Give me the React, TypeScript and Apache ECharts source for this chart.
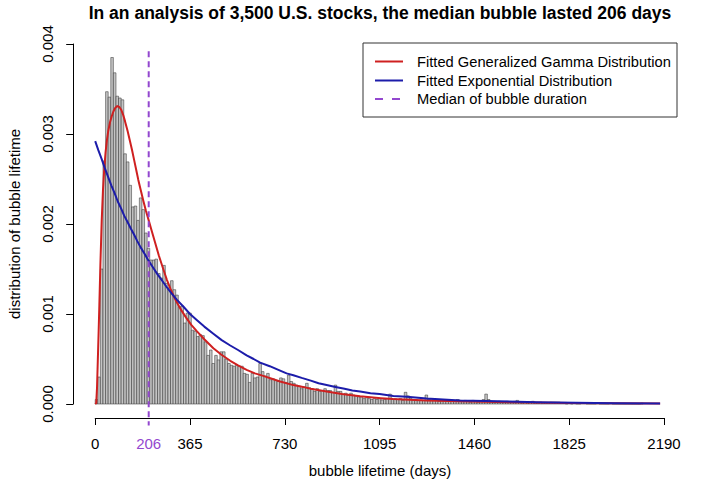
import React, { useEffect, useRef } from "react";
import * as echarts from "echarts";

// ---- data ----
const BIN_WIDTH = 10; // days per histogram bin
const binDensity: number[] = [
  // 0-9
  0.00005, 0.0003, 0.0015, 0.0027, 0.00347, 0.00341, 0.00385, 0.00368, 0.00342, 0.0034,
  // 10-19
  0.00338, 0.00278, 0.00269, 0.00243, 0.00219, 0.0022, 0.00204, 0.00229, 0.00216, 0.0019,
  // 20-29
  0.00173, 0.0016, 0.0016, 0.00161, 0.00145, 0.0014, 0.00154, 0.00134, 0.00129, 0.00137,
  // 30-39
  0.00127, 0.00121, 0.00108, 0.00109, 0.0009, 0.00101, 0.00101, 0.00082, 0.00081, 0.00075,
  // 40-49
  0.00077, 0.00076, 0.00069, 0.00054, 0.0006, 0.00045, 0.00054, 0.00049, 0.00058, 0.00058,
  // 50-59
  0.0005, 0.00045, 0.00043, 0.00042, 0.00043, 0.00042, 0.00042, 0.00034, 0.00033, 0.00024,
  // 60-69
  0.00034, 0.00029, 0.0003, 0.00045, 0.00036, 0.00031, 0.00034, 0.00027, 0.00028, 0.00026,
  // 70-79
  0.00025, 0.00029, 0.00028, 0.00024, 0.00032, 0.00025, 0.00023, 0.00021, 0.0002, 0.00017,
  // 80-89
  0.00019, 0.00023, 0.00018, 0.00017, 0.00014, 0.00017, 0.00014, 0.00015, 0.00017, 0.00015,
  // 90-99
  0.00015, 0.00013, 0.00021, 0.00014, 0.00014, 0.00011, 0.00012, 0.0001, 0.00012, 0.0001,
  // 100-109
  0.00009, 0.00008, 0.00008, 0.00006, 0.00007, 0.00006, 0.00005, 0.00006, 0.00005, 0.00006,
  // 110-119
  0.000045, 0.00005, 0.00006, 0.00011, 0.00005, 0.00006, 0.00005, 0.00006, 0.00004, 0.00013,
  // 120-129
  0.00009, 0.00006, 0.000045, 0.00005, 0.00004, 0.000045, 0.00004, 0.0001, 0.00005, 0.000045,
  // 130-139
  0.00006, 0.000045, 0.00003, 0.00004, 0.00005, 0.00003, 0.00005, 0.00004, 0.00003, 0.00005,
  // 140-149
  0.00004, 0.00003, 0.00004, 0.00003, 0.00002, 0.00004, 0.00003, 0.00002, 0.00003, 0.00005,
  // 150-159
  0.00011, 0.00005, 0.00003, 0.00002, 0.00002, 0.00003, 0.00002, 0.00002, 0.00003, 0.00002,
  // 160-169
  0.00002, 0.00003, 0.00004, 0.00002, 0.00001, 0.00002, 0.00001, 0.00002, 0.00003, 0.00001,
  // 170-179
  0.00001, 0.00002, 0.00001, 0.00001, 0.00001, 0.00002, 0.00002, 0.00002, 0.00002, 0.00001,
  // 180-189
  0.00001, 0, 0.00001, 0, 0.00001, 0, 0, 0.00001, 0.00001, 0,
  // 190-199
  0, 0, 0, 0.00001, 0, 0, 0, 0, 0.00001, 0,
  // 200-210
  0, 0, 0, 0, 0, 0, 0, 0, 0, 0, 0.00001,
];

// fitted generalized gamma curve
const gammaFit: [number, number][] = [
  [0, 0], [4, 0.00001], [7, 0.00018], [10, 0.00048], [13, 0.00078], [16, 0.0011],
  [20, 0.00155], [25, 0.00203], [30, 0.00238], [35, 0.00262], [40, 0.0028], [45, 0.00293],
  [50, 0.00303], [57, 0.00313], [64, 0.0032], [70, 0.00325], [77, 0.00329], [85, 0.00331],
  [93, 0.0033], [100, 0.00327], [108, 0.00321], [115, 0.00314], [125, 0.00303], [134, 0.00292],
  [142, 0.00282], [150, 0.00271], [158, 0.0026], [166, 0.00249], [175, 0.00238], [185, 0.00226],
  [195, 0.00215], [206, 0.00204], [218, 0.00192], [230, 0.0018], [245, 0.00165], [262, 0.0015],
  [276, 0.00138], [290, 0.00128], [302, 0.0012], [314, 0.00113], [332, 0.00104], [350, 0.00096],
  [370, 0.00088], [391, 0.00081], [420, 0.00072], [455, 0.00062], [485, 0.00055], [520, 0.00048],
  [550, 0.00043], [583, 0.00038], [615, 0.00034], [650, 0.00031], [680, 0.00028], [712, 0.00025],
  [763, 0.00021], [800, 0.00019], [830, 0.00017], [891, 0.00014], [950, 0.00011], [1020, 0.000085],
  [1100, 0.000065], [1148, 0.000055], [1210, 0.000047], [1276, 0.00004], [1400, 0.00003],
  [1600, 0.00002], [1825, 0.000012], [2000, 0.000008], [2175, 0.000005],
];

// fitted exponential curve
const expFit: [number, number][] = [
  [0, 0.00292], [12, 0.00282], [25, 0.00272], [37, 0.00262], [50, 0.00252], [62, 0.00243],
  [75, 0.00234], [87, 0.00225], [100, 0.00217], [112, 0.00209], [125, 0.00202], [137, 0.00195],
  [150, 0.00188], [162, 0.00181], [175, 0.00174], [190, 0.00167], [206, 0.00159], [222, 0.00152],
  [240, 0.00144], [258, 0.00137], [275, 0.0013], [294, 0.00123], [314, 0.00116], [340, 0.00108],
  [365, 0.001], [392, 0.00093], [420, 0.00086], [455, 0.00078], [487, 0.00071], [520, 0.00065],
  [550, 0.0006], [583, 0.00054], [610, 0.0005], [635, 0.00046], [672, 0.00042], [712, 0.00037],
  [737, 0.00034], [763, 0.00032], [795, 0.00029], [830, 0.00026], [860, 0.00023], [891, 0.00021],
  [925, 0.00019], [960, 0.00017], [990, 0.00015], [1020, 0.00014], [1060, 0.00012], [1095, 0.00011],
  [1148, 0.00009], [1200, 0.00008], [1276, 0.00006], [1340, 0.00005], [1405, 0.00004],
  [1550, 0.00003], [1700, 0.00002], [1850, 0.000013], [2000, 0.000008], [2175, 0.000005],
];

const MEDIAN_DAYS = 206;
const medianSpan: number[] = [-0.00024, 0.00392]; // vertical extent of the dashed median line
const xTickValues = [0, 365, 730, 1095, 1460, 1825, 2190];
const xLabelValues = [0, 206, 365, 730, 1095, 1460, 1825, 2190];
const Y_MAX = 0.004;
const Y_STEP = 0.001;

const TITLE = "In an analysis of 3,500 U.S. stocks, the median bubble lasted 206 days";
const X_NAME = "bubble lifetime (days)";
const Y_NAME = "distribution of bubble lifetime";
const LEGEND_ITEMS = [
  "Fitted Generalized Gamma Distribution",
  "Fitted Exponential Distribution",
  "Median of bubble duration",
];

const RED = "#cf2020";
const BLUE = "#1c1caa";
const PURPLE = "#9347cf";
const FONT = "'Liberation Sans', Arial, Helvetica, sans-serif";

export default function App() {
  const ref = useRef<HTMLDivElement>(null);

  useEffect(() => {
    if (!ref.current) return;
    const chart = echarts.init(ref.current, null, { renderer: "svg" });

    const histData = binDensity.map((v, i) => [i * BIN_WIDTH, (i + 1) * BIN_WIDTH, v]);
    const legendY = [61.5, 80.5, 99];

    const option: any = {
      animation: false,
      backgroundColor: "#ffffff",
      grid: {
        left: 95.2,
        top: 44,
        width: 568.8,
        height: 360,
        containLabel: false,
        outerBoundsMode: "none",
      },
      xAxis: {
        type: "value",
        min: 0,
        max: 2190,
        offset: 14,
        splitLine: { show: false },
        axisLine: { show: true, onZero: false, lineStyle: { color: "#000", width: 1 } },
        axisTick: {
          show: true,
          length: 7,
          customValues: xTickValues,
          lineStyle: { color: "#000", width: 1 },
        },
        axisLabel: {
          show: true,
          customValues: xLabelValues,
          margin: 18,
          fontSize: 15,
          fontFamily: FONT,
          color: (val: any) => (Number(val) === MEDIAN_DAYS ? PURPLE : "#000"),
          formatter: (v: number) => String(v),
        },
      },
      yAxis: {
        type: "value",
        min: 0,
        max: Y_MAX,
        interval: Y_STEP,
        offset: 22,
        splitLine: { show: false },
        axisLine: { show: true, onZero: false, lineStyle: { color: "#000", width: 1 } },
        axisTick: { show: true, length: 7, lineStyle: { color: "#000", width: 1 } },
        axisLabel: {
          show: true,
          rotate: 90,
          margin: 18,
          fontSize: 15,
          fontFamily: FONT,
          color: "#000",
          formatter: (v: number) => v.toFixed(3),
        },
      },
      series: [
        {
          type: "custom",
          name: "hist",
          data: histData,
          encode: { x: [0, 1], y: 2 },
          renderItem: (params: any, api: any) => {
            const p0 = api.coord([api.value(0), api.value(2)]);
            const p1 = api.coord([api.value(1), 0]);
            return {
              type: "rect",
              shape: { x: p0[0], y: p0[1], width: p1[0] - p0[0], height: p1[1] - p0[1] },
              style: { fill: "#c4c4c4", stroke: "#2b2b2b", lineWidth: 0.5 },
            };
          },
          z: 1,
        },
        {
          type: "line",
          name: LEGEND_ITEMS[0],
          data: gammaFit,
          smooth: false,
          symbol: "none",
          lineStyle: { color: RED, width: 2, join: "round" },
          z: 3,
        },
        {
          type: "line",
          name: LEGEND_ITEMS[1],
          data: expFit,
          smooth: false,
          symbol: "none",
          lineStyle: { color: BLUE, width: 2, join: "round" },
          z: 4,
        },
        {
          type: "line",
          name: LEGEND_ITEMS[2],
          data: [
            [MEDIAN_DAYS, medianSpan[1]],
            [MEDIAN_DAYS, medianSpan[0]],
          ],
          clip: false,
          symbol: "none",
          lineStyle: { color: PURPLE, width: 2, type: [6, 4] },
          z: 5,
        },
      ],
      graphic: [
        {
          type: "text",
          x: 380,
          y: 13,
          style: {
            text: TITLE,
            fontSize: 17.5,
            fontWeight: "bold",
            fontFamily: FONT,
            fill: "#000",
            align: "center",
            verticalAlign: "middle",
          },
        },
        {
          type: "text",
          x: 380,
          y: 470,
          style: {
            text: X_NAME,
            fontSize: 15,
            fontFamily: FONT,
            fill: "#000",
            align: "center",
            verticalAlign: "middle",
          },
        },
        {
          type: "text",
          x: 14,
          y: 224,
          rotation: Math.PI / 2,
          style: {
            text: Y_NAME,
            fontSize: 15,
            fontFamily: FONT,
            fill: "#000",
            align: "center",
            verticalAlign: "middle",
          },
        },
        {
          type: "group",
          children: [
            {
              type: "rect",
              shape: { x: 363, y: 43, width: 314, height: 74 },
              style: { fill: "#fff", stroke: "#333", lineWidth: 1 },
            },
            {
              type: "line",
              shape: { x1: 375, y1: legendY[0], x2: 403, y2: legendY[0] },
              style: { stroke: RED, lineWidth: 2 },
            },
            {
              type: "line",
              shape: { x1: 375, y1: legendY[1], x2: 403, y2: legendY[1] },
              style: { stroke: BLUE, lineWidth: 2 },
            },
            {
              type: "line",
              shape: { x1: 375, y1: legendY[2], x2: 403, y2: legendY[2] },
              style: { stroke: PURPLE, lineWidth: 2, lineDash: [8, 9] },
            },
            ...LEGEND_ITEMS.map((t, i) => ({
              type: "text",
              x: 417,
              y: legendY[i],
              style: {
                text: t,
                fontSize: 14.7,
                fontFamily: FONT,
                fill: "#000",
                align: "left",
                verticalAlign: "middle",
              },
            })),
          ],
        },
      ],
    };

    chart.setOption(option);
    return () => chart.dispose();
  }, []);

  return (
    <div
      ref={ref}
      style={{ position: "fixed", left: 0, top: 0, width: 720, height: 480, background: "#fff" }}
    />
  );
}
